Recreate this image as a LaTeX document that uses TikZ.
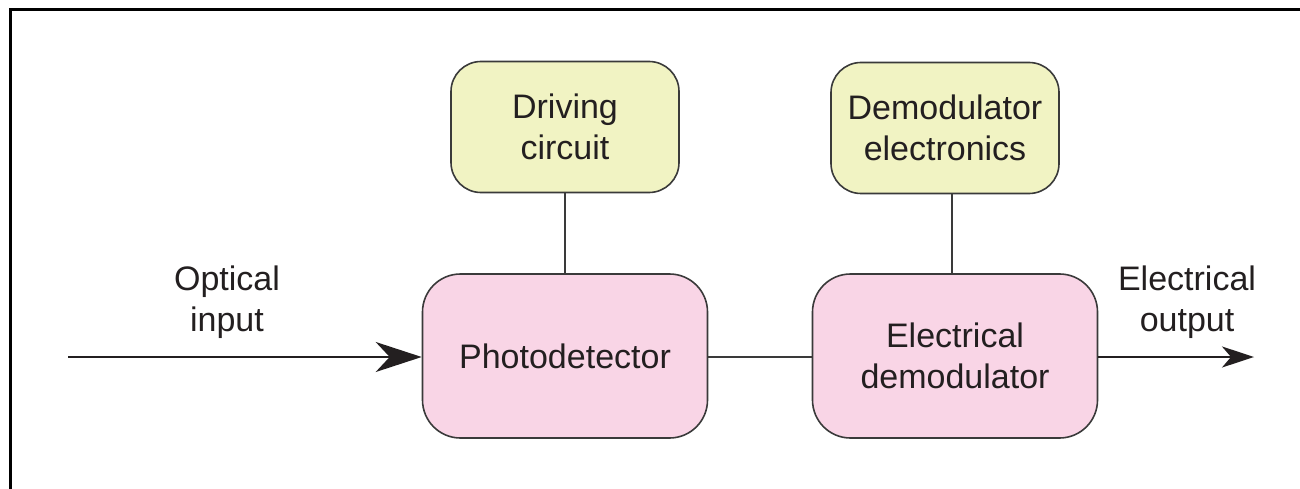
\documentclass[tikz,border=0pt]{standalone}
\usepackage{fontspec}
\setmainfont{Liberation Sans}
\usetikzlibrary{arrows.meta}
\definecolor{ybox}{HTML}{F1F3C3}
\definecolor{pbox}{HTML}{F9D5E6}
\definecolor{edge}{HTML}{3A3A3A}
\definecolor{txt}{HTML}{231F20}
\begin{document}
\begin{tikzpicture}[x=1pt,y=-1pt,
  every node/.style={text=txt,font=\fontsize{34}{41}\selectfont,align=center,inner sep=0pt},
  topbox/.style={draw=edge,line width=1.6pt,fill=ybox,rounded corners=30pt,minimum width=228pt,minimum height=131pt},
  mainbox/.style={draw=edge,line width=1.6pt,fill=pbox,rounded corners=38pt,minimum width=285pt,minimum height=164pt},
  conn/.style={draw=edge,line width=1.6pt},
  arr/.style={draw=txt,line width=2pt}]
\useasboundingbox (0,0) rectangle (1300,489);
\fill[white] (0,0) rectangle (1300,489);
\draw[line width=3pt,black] (10,489) -- (10,9.5) -- (1300,9.5);

\node[topbox] (dc) at (565,127) {Driving\\circuit};
\node[mainbox] (pd) at (565,356) {Photodetector};
\node[topbox] (de) at (945,128) {Demodulator\\electronics};
\node[mainbox] (ed) at (955,356) {Electrical\\demodulator};

\node (oi) at (227,302) {Optical\\input};
\node (eo) at (1187,302) {Electrical\\output};

\coordinate (inp) at (68,357);
\coordinate (outp) at (1254,357);

\draw[conn] (dc.south) -- (pd.north);
\draw[conn] ([xshift=-3pt]ed.north) -- ([xshift=-3pt]ed.north |- de.south);
\draw[conn] (pd.east |- 0,357) -- (ed.west |- 0,357);
\draw[arr,-{Stealth[length=46pt,width=30pt,inset=14pt]}] (inp) -- (pd.west |- inp);
\draw[arr,-{Stealth[length=32pt,width=21pt,inset=9pt]}] (ed.east |- outp) -- (outp);
\end{tikzpicture}
\end{document}
